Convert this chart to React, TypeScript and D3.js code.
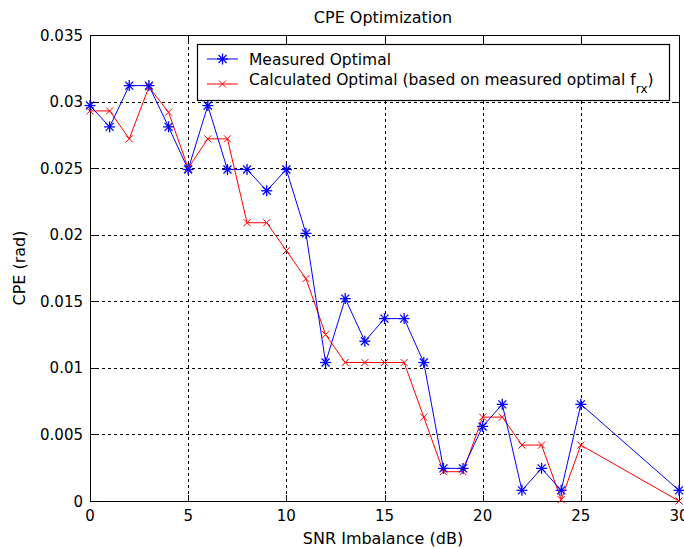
import React from "react";
import * as d3 from "d3";

const xMeasured = [0,1,2,3,4,5,6,7,8,9,10,11,12,13,14,15,16,17,18,19,20,21,22,23,24,25,30];
const measured = [0.0297,0.0281,0.0312,0.0312,0.0281,0.0249,0.0297,0.0249,0.0249,0.0233,0.0249,0.0201,0.0104,0.0152,0.0120,0.0137,0.0137,0.0104,0.00245,0.00245,0.0056,0.00726,0.0008,0.00245,0.0008,0.00726,0.0008];
const calculated = [0.0293,0.0293,0.0272,0.0311,0.0292,0.0250,0.0272,0.0272,0.0209,0.0209,0.0188,0.0167,0.0125,0.0104,0.0104,0.0104,0.0104,0.0063,0.0022,0.0022,0.0063,0.0063,0.0042,0.0042,0.0001,0.0042,0.0];
const xTicks = [0,5,10,15,20,25,30];
const yTicks = [0,0.005,0.01,0.015,0.02,0.025,0.03,0.035];
const yTickLabels = ["0","0.005","0.01","0.015","0.02","0.025","0.03","0.035"];

const W = 684, H = 548;
const L = 90, R = 679, T = 35, B = 501;
const FONT = "'DejaVu Sans', Verdana, sans-serif";

export default function App() {
  const x = d3.scaleLinear().domain([0, 30]).range([L, R]);
  const y = d3.scaleLinear().domain([0, 0.035]).range([B, T]);
  const line = d3.line<[number, number]>().x(d => x(d[0])).y(d => y(d[1]));
  const mPts: [number, number][] = xMeasured.map((v, i) => [v, measured[i]]);
  const cPts: [number, number][] = xMeasured.map((v, i) => [v, calculated[i]]);

  const star = (cx: number, cy: number, k: string) => {
    const r = 5.5, d = 4;
    return (
      <g key={k} stroke="#0000ff" strokeWidth={1.3}>
        <line x1={cx - r} y1={cy} x2={cx + r} y2={cy} />
        <line x1={cx} y1={cy - r} x2={cx} y2={cy + r} />
        <line x1={cx - d} y1={cy - d} x2={cx + d} y2={cy + d} />
        <line x1={cx - d} y1={cy + d} x2={cx + d} y2={cy - d} />
      </g>
    );
  };
  const cross = (cx: number, cy: number, k: string) => {
    const d = 3.5;
    return (
      <g key={k} stroke="#ff0000" strokeWidth={1}>
        <line x1={cx - d} y1={cy - d} x2={cx + d} y2={cy + d} />
        <line x1={cx - d} y1={cy + d} x2={cx + d} y2={cy - d} />
      </g>
    );
  };

  return (
    <svg width={W} height={H} style={{ position: "absolute", left: 0, top: 0, background: "#fff" }} fontFamily={FONT}>
      <rect x={0} y={0} width={W} height={H} fill="#fff" />
      {/* grid */}
      <g stroke="#000" strokeWidth={1} strokeDasharray="3,3">
        {xTicks.slice(1, -1).map(t => (
          <line key={"gx" + t} x1={Math.round(x(t)) + 0.5} x2={Math.round(x(t)) + 0.5} y1={T} y2={B} />
        ))}
        {yTicks.slice(1, -1).map(t => (
          <line key={"gy" + t} x1={L} x2={R} y1={Math.round(y(t)) + 0.5} y2={Math.round(y(t)) + 0.5} />
        ))}
      </g>
      {/* ticks */}
      <g stroke="#000" strokeWidth={1}>
        {xTicks.map(t => (
          <g key={"tx" + t}>
            <line x1={Math.round(x(t)) + 0.5} x2={Math.round(x(t)) + 0.5} y1={B} y2={B - 6} />
            <line x1={Math.round(x(t)) + 0.5} x2={Math.round(x(t)) + 0.5} y1={T} y2={T + 6} />
          </g>
        ))}
        {yTicks.map(t => (
          <g key={"ty" + t}>
            <line x1={L} x2={L + 6} y1={Math.round(y(t)) + 0.5} y2={Math.round(y(t)) + 0.5} />
            <line x1={R} x2={R - 6} y1={Math.round(y(t)) + 0.5} y2={Math.round(y(t)) + 0.5} />
          </g>
        ))}
      </g>
      <rect x={L + 0.5} y={T + 0.5} width={R - L} height={B - T} fill="none" stroke="#000" strokeWidth={1} />
      {/* tick labels */}
      <g fontSize={15} fill="#000">
        {xTicks.map(t => (
          <text key={"lx" + t} x={x(t)} y={B + 20} textAnchor="middle">{t}</text>
        ))}
        {yTicks.map((t, i) => (
          <text key={"ly" + t} x={L - 7} y={y(t) + 5.5} textAnchor="end">{yTickLabels[i]}</text>
        ))}
      </g>
      {/* series */}
      <path d={line(cPts) || ""} fill="none" stroke="#ff0000" strokeWidth={1} />
      <path d={line(mPts) || ""} fill="none" stroke="#0000ff" strokeWidth={1} />
      {cPts.map((p, i) => cross(x(p[0]), y(p[1]), "c" + i))}
      {mPts.map((p, i) => star(x(p[0]), y(p[1]), "m" + i))}
      {/* legend */}
      <rect x={197.5} y={44.5} width={472} height={56} fill="#fff" stroke="#000" strokeWidth={1.2} />
      <line x1={207} x2={238} y1={59} y2={59} stroke="#0000ff" strokeWidth={1} />
      {star(222.5, 59, "ls")}
      <line x1={207} x2={238} y1={84} y2={84} stroke="#ff0000" strokeWidth={1} />
      {cross(222.5, 84, "lc")}
      <text x={249} y={64.5} fontSize={15.5}>Measured Optimal</text>
      <text x={249} y={85} fontSize={15.5}>
        Calculated Optimal (based on measured optimal f
        <tspan fontSize={12} dy={8}>rx</tspan>
        <tspan dy={-8}>)</tspan>
      </text>
      {/* titles */}
      <text x={383} y={23} textAnchor="middle" fontSize={16}>CPE Optimization</text>
      <text x={383} y={544} textAnchor="middle" fontSize={16}>SNR Imbalance (dB)</text>
      <text transform={`translate(25,268) rotate(-90)`} textAnchor="middle" fontSize={16}>CPE (rad)</text>
    </svg>
  );
}
